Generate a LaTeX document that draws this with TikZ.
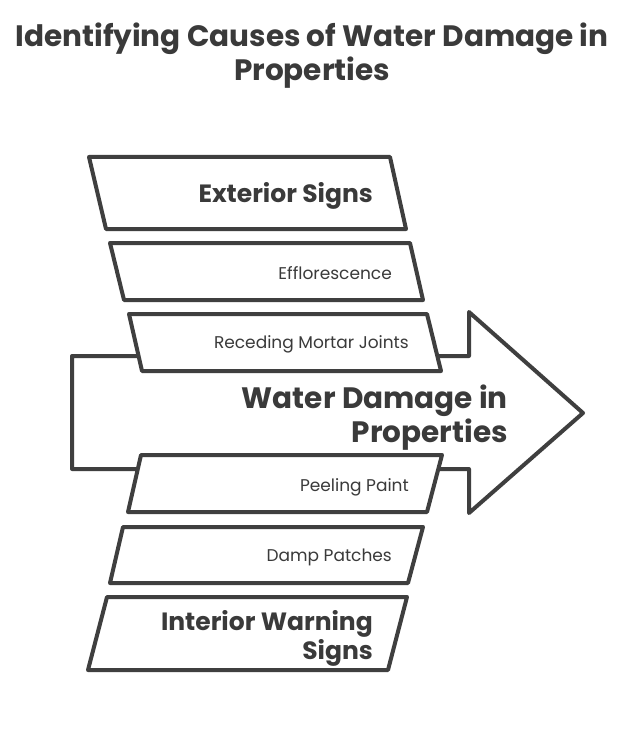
\documentclass[tikz,border=0pt]{standalone}
\usepackage{fontspec}
\setmainfont{Poppins}
\definecolor{ink}{HTML}{3F3F3F}
\definecolor{txt}{HTML}{3A3A3A}
\begin{document}
\begin{tikzpicture}[x=1pt,y=-1pt,
  outline/.style={draw=ink,line width=4pt,line join=round,fill=white},
  boxtxt/.style={text=txt,font=\bfseries\fontsize{25}{29}\selectfont,align=right,inner sep=0pt},
  bigtxt/.style={text=txt,font=\bfseries\fontsize{29.5}{34}\selectfont,align=right,inner sep=0pt},
  smalltxt/.style={text=txt,font=\fontsize{17}{20}\selectfont,inner sep=0pt},
  titletxt/.style={text=txt,font=\bfseries\fontsize{29.5}{34}\selectfont,align=center,inner sep=0pt}]
\useasboundingbox[fill=white] (0,0) rectangle (624,730);
% title
\node[titletxt] (title) at (312,56) {Identifying Causes of Water Damage in\\Properties};
% central arrow
\draw[outline] (72,356) -- (469,356) -- (469,312) -- (583,413) -- (469,513) -- (469,469) -- (72,469) -- cycle;
% boxes
\draw[outline] (89,157) -- (390,157) -- (406,229) -- (106,229) -- cycle;
\draw[outline] (110,243) -- (410,243) -- (423,300) -- (124,300) -- cycle;
\draw[outline] (129,314) -- (427,314) -- (441,371) -- (142,371) -- cycle;
\draw[outline] (141,455) -- (442,455) -- (427,512) -- (128,512) -- cycle;
\draw[outline] (123,527) -- (423,527) -- (408,583) -- (110,583) -- cycle;
\draw[outline] (107,597) -- (407,597) -- (388,670) -- (88,670) -- cycle;
% texts
\node[boxtxt,anchor=east] (ext) at (373,196) {Exterior Signs};
\node[smalltxt,anchor=east] (eff) at (392,273) {Efflorescence};
\node[smalltxt,anchor=east] (rec) at (409,344) {Receding Mortar Joints};
\node[bigtxt,anchor=east] (water) at (508,418) {Water Damage in\\Properties};
\node[smalltxt,anchor=east] (peel) at (409,487) {Peeling Paint};
\node[smalltxt,anchor=east] (damp) at (392,557) {Damp Patches};
\node[boxtxt,anchor=east] (int) at (373,638) {Interior Warning\\Signs};
\end{tikzpicture}
\end{document}
